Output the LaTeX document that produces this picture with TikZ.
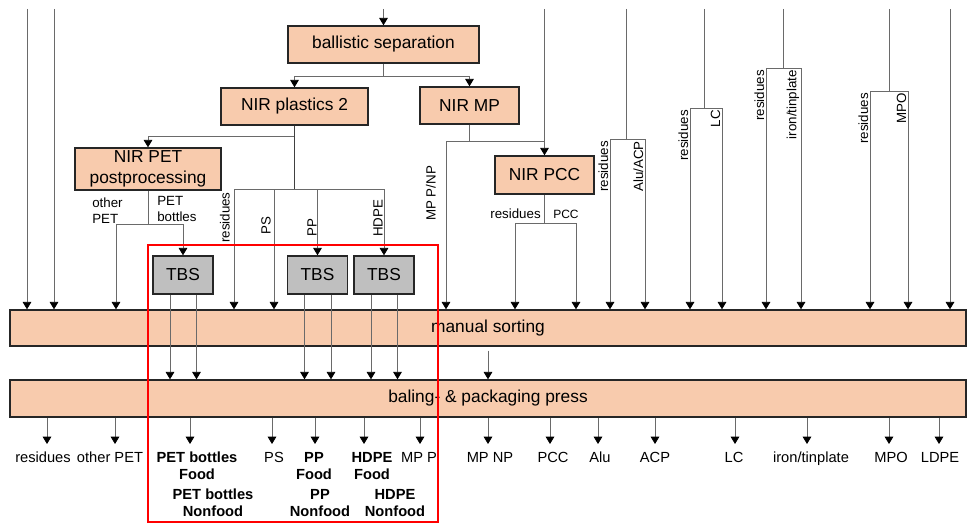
\documentclass[tikz,border=0pt]{standalone}
\usepackage{fontspec}
\setmainfont{Liberation Sans}
\usetikzlibrary{arrows.meta}

\definecolor{peach}{HTML}{F8CBAD}
\definecolor{tbsgray}{HTML}{BFBFBF}
\definecolor{linegray}{HTML}{6A6A6A}

\tikzset{
    procbox/.style={draw=black!85, line width=1.1pt, fill=peach, inner sep=0pt, align=center, font=\fontsize{13}{15.6}\selectfont},
    tbsbox/.style={procbox, fill=tbsgray, minimum width=45pt, minimum height=28.5pt},
    conn/.style={draw=linegray, line width=0.6pt},
    flow/.style={conn, -{Triangle[width=6.5pt,length=5.5pt,color=black]}},
    vlabel/.style={rotate=90, inner sep=0pt, font=\fontsize{10}{12}\selectfont},
    smalllbl/.style={inner sep=0pt, align=left, font=\fontsize{10}{11.8}\selectfont},
    outlbl/.style={anchor=north, inner sep=0pt, align=center, font=\fontsize{11}{12.75}\selectfont},
    outbold/.style={outlbl, font=\fontsize{11}{12.75}\selectfont\bfseries},
}

\begin{document}
\begin{tikzpicture}[x=0.75pt, y=-0.75pt]
    \useasboundingbox (0,0) rectangle (971,524);

    \node[procbox, minimum width=143.25pt, minimum height=27.75pt] (bs) at (383.5,44.5) {ballistic separation};
    \node[procbox, minimum width=110.25pt, minimum height=27.75pt] (np2) at (294.5,106.5) {NIR plastics 2};
    \node[procbox, minimum width=74.25pt, minimum height=27.75pt] (nmp) at (469.5,105.5) {NIR MP};
    \node[procbox, minimum width=109.5pt, minimum height=31.5pt] (npet) at (148,169) {NIR PET\\postprocessing};
    \node[procbox, minimum width=74.25pt, minimum height=28.5pt] (npcc) at (544.5,175) {NIR PCC};
    \foreach \x [count=\i] in {183,317.5,384}
        \node[tbsbox] (tbs\i) at (\x,275) {TBS};
    \node[procbox, minimum width=717pt, minimum height=27pt] (ms) at (488,328) {manual sorting};
    \node[procbox, minimum width=717pt, minimum height=27.75pt] (bp) at (488,398.5) {baling- \& packaging press};

    \foreach \x [count=\i] in {27,54,383.5,544.5,626,704,783,889,950}
        \coordinate (in\i) at (\x,9);
    \foreach \i in {1,2,9}
        \draw[flow] (in\i) -- (in\i |- ms.north);
    \draw[flow] (in3) -- (bs.north);
    \draw[flow] (in4) -- (npcc.north);

    \draw[flow] (bs.south) -- ++(0,13) coordinate (bsj) -| (np2.north);
    \draw[flow] (bsj) -| (nmp.north);

    \draw[flow] (np2.south) -- ++(0,11) -| (npet.north);
    \draw[conn, line width=1pt, draw=black!75] (np2.south) -- ++(0,64) coordinate (np2j);
    \draw[flow] (np2j) -| (tbs2.north);
    \draw[flow] (np2j) -| (tbs3.north);
    \foreach \x in {234,274}
        \draw[flow] (np2j) -| (ms.north -| \x,0);
    \node[vlabel, anchor=south west] (lres) at (230,243) {residues};
    \node[vlabel, anchor=south west] (lps) at (271,235) {PS};
    \node[vlabel, anchor=south west] (lpp) at (317,237) {PP};
    \node[vlabel, anchor=south west] (lhdpe) at (383,237) {HDPE};

    \draw[flow] (npet.south) -- ++(0,34) coordinate (npetj) -| (ms.north -| 116,0);
    \draw[flow] (npetj) -| (tbs1.north);
    \node[smalllbl, anchor=north west] (lopet) at (92,198) {other\\PET};
    \node[smalllbl, anchor=north west] (lpetb) at (157,196) {PET\\bottles};

    \foreach \t in {tbs1,tbs2,tbs3}
        \foreach \d in {-13,13.5}
            \draw[flow] (\t.south) ++(\d,0) coordinate (o) -- (o |- bp.north);

    \draw[flow] (nmp.south) -- ++(0,17) coordinate (nmpj) -| (ms.north -| 446,0);
    \draw[conn] (nmpj) -- (nmpj -| npcc.north);
    \node[vlabel, anchor=south west] (lmppnp) at (436,221) {MP P/NP};

    \draw[flow] (npcc.south) -- ++(0,29) coordinate (npccj) -| (ms.north -| 515,0);
    \draw[flow] (npccj) -| (ms.north -| 576,0);
    \node[anchor=base east, inner sep=0pt, font=\fontsize{10}{12}\selectfont] (lpccres) at (541,219) {residues};
    \node[anchor=base west, inner sep=0pt, font=\fontsize{9}{11}\selectfont] (lpcc) at (553,219) {PCC};

    \foreach \i/\y/\lft/\rgt/\txt in {5/139/610/645/{Alu/ACP}, 6/108/690/722/LC, 7/68/766/801/{iron/tinplate}, 8/91/870/908/MPO} {
        \draw[conn] (in\i) -- (in\i |- 0,\y) coordinate (j\i);
        \draw[flow] (j\i) -| (ms.north -| \lft,0);
        \draw[flow] (j\i) -| (ms.north -| \rgt,0);
        \node[vlabel, anchor=south east] (res\i) at (\lft-1.5,\y+2) {residues};
        \node[vlabel, anchor=south east] (frac\i) at (\rgt-1.5,\y+2) {\txt};
    }

    \draw[flow] ([yshift=-3pt]ms.south) -- (bp.north);

    \foreach \ax/\lx/\txt/\sty [count=\i] in {47/43/residues/outlbl, 115/110/other PET/outlbl, 190/197/{PET bottles\\Food}/outbold, 272/274/PS/outlbl, 315/314/{PP\\Food}/outbold, 364/372/{HDPE\\Food}/outbold, 420/419/MP P/outlbl, 488/490/MP NP/outlbl, 550/553/PCC/outlbl, 598/600/Alu/outlbl, 655/655/ACP/outlbl, 735/734/LC/outlbl, 807/811/{iron/tinplate}/outlbl, 889/891/MPO/outlbl, 939/940/LDPE/outlbl} {
        \node[\sty] (prod\i) at (\lx,452) {\txt};
        \draw[flow, shorten >=6pt] (bp.south -| \ax,0) -- (prod\i.north -| \ax,0);
    }
    \node[outbold] (petnf) at (213,489) {PET bottles\\Nonfood};
    \node[outbold] (ppnf) at (320,489) {PP\\Nonfood};
    \node[outbold] (hdpenf) at (395,489) {HDPE\\Nonfood};

    \draw[red, line width=1.5pt] (148,245) rectangle (438,522);
\end{tikzpicture}
\end{document}
